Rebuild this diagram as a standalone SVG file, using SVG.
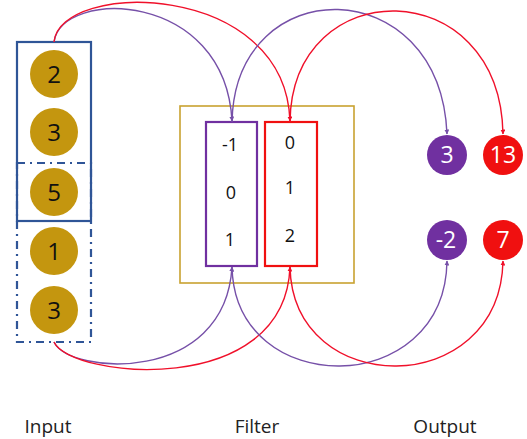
<svg xmlns="http://www.w3.org/2000/svg" width="527" height="439" viewBox="0 0 527 439">
<style>
.in circle{fill:#C4960F}
.in text{font-family:"Open Sans","Liberation Sans",sans-serif;font-size:24px;fill:#111;text-anchor:middle}
.ft{font-family:"Open Sans","Liberation Sans",sans-serif;font-size:18px;fill:#111;text-anchor:middle}
.out text{font-family:"Open Sans","Liberation Sans",sans-serif;font-size:23px;fill:#fff;text-anchor:middle}
.lbl{font-family:"Open Sans","Liberation Sans",sans-serif;font-size:19px;fill:#222;text-anchor:middle}
.p{fill:none;stroke:#7650A8;stroke-width:1.4}
.r{fill:none;stroke:#F0102A;stroke-width:1.4}
</style>
<defs>
<marker id="ap" viewBox="0 0 10 10" refX="9" refY="5" markerWidth="5" markerHeight="5" orient="auto" markerUnits="userSpaceOnUse"><path d="M0,0L10,5L0,10z" fill="#7650A8"/></marker>
<marker id="ar" viewBox="0 0 10 10" refX="9" refY="5" markerWidth="5" markerHeight="5" orient="auto" markerUnits="userSpaceOnUse"><path d="M0,0L10,5L0,10z" fill="#F0102A"/></marker>
</defs>
<rect width="527" height="439" fill="#fff"/>
<g id="input">
<rect x="17" y="42" width="74" height="179" fill="none" stroke="#2F5597" stroke-width="2.2"/>
<rect x="17" y="163" width="74" height="179" fill="none" stroke="#2F5597" stroke-width="2.2" stroke-dasharray="8,5,2,5"/>
<g class="in">
<circle cx="54" cy="74" r="24"/><text x="54" y="83">2</text>
<circle cx="54" cy="132" r="24"/><text x="54" y="141">3</text>
<circle cx="54" cy="192" r="24"/><text x="54" y="201">5</text>
<circle cx="54" cy="251" r="24"/><text x="54" y="260">1</text>
<circle cx="54" cy="310" r="24"/><text x="54" y="319">3</text>
</g>
</g>
<g id="filter">
<rect x="180" y="106" width="174" height="177" fill="none" stroke="#C9A230" stroke-width="1.6"/>
<rect x="206" y="122" width="51" height="144" fill="none" stroke="#7030A0" stroke-width="2.2"/>
<rect x="265" y="122" width="52" height="144" fill="none" stroke="#F01010" stroke-width="2.2"/>
<text class="ft" x="230" y="151">-1</text>
<text class="ft" x="231" y="199">0</text>
<text class="ft" x="230" y="246">1</text>
<text class="ft" x="290" y="149">0</text>
<text class="ft" x="290" y="194">1</text>
<text class="ft" x="290" y="242">2</text>
</g>
<g id="output" class="out">
<circle cx="447" cy="155" r="20" fill="#7030A0"/><text x="447" y="163">3</text>
<circle cx="503" cy="155" r="20" fill="#F01010"/><text x="503" y="163">13</text>
<circle cx="447" cy="240" r="20" fill="#7030A0"/><text x="446" y="248">-2</text>
<circle cx="503" cy="240" r="20" fill="#F01010"/><text x="503" y="248">7</text>
</g>
<g id="connectors">
<path class="p" d="M54,42 C62,-12 225,-10 232,121" marker-end="url(#ap)"/>
<path class="r" d="M54,42 C60,-20 285,-20 290,121" marker-end="url(#ar)"/>
<path class="p" d="M232,122 C235,-30 440,-30 447,134" marker-end="url(#ap)"/>
<path class="r" d="M290,122 C292,-28 500,-28 503,134" marker-end="url(#ar)"/>
<path class="p" d="M54,342 C70,375 225,385 232,267" marker-end="url(#ap)"/>
<path class="r" d="M54,342 C70,378 285,400 290,267" marker-end="url(#ar)"/>
<path class="p" d="M232,267 C235,400 445,400 447,261" marker-end="url(#ap)"/>
<path class="r" d="M290,267 C293,400 500,400 503,261" marker-end="url(#ar)"/>
</g>
<g id="labels">
<text class="lbl" x="48" y="433">Input</text>
<text class="lbl" x="257" y="433">Filter</text>
<text class="lbl" x="445" y="433">Output</text>
</g>
</svg>
